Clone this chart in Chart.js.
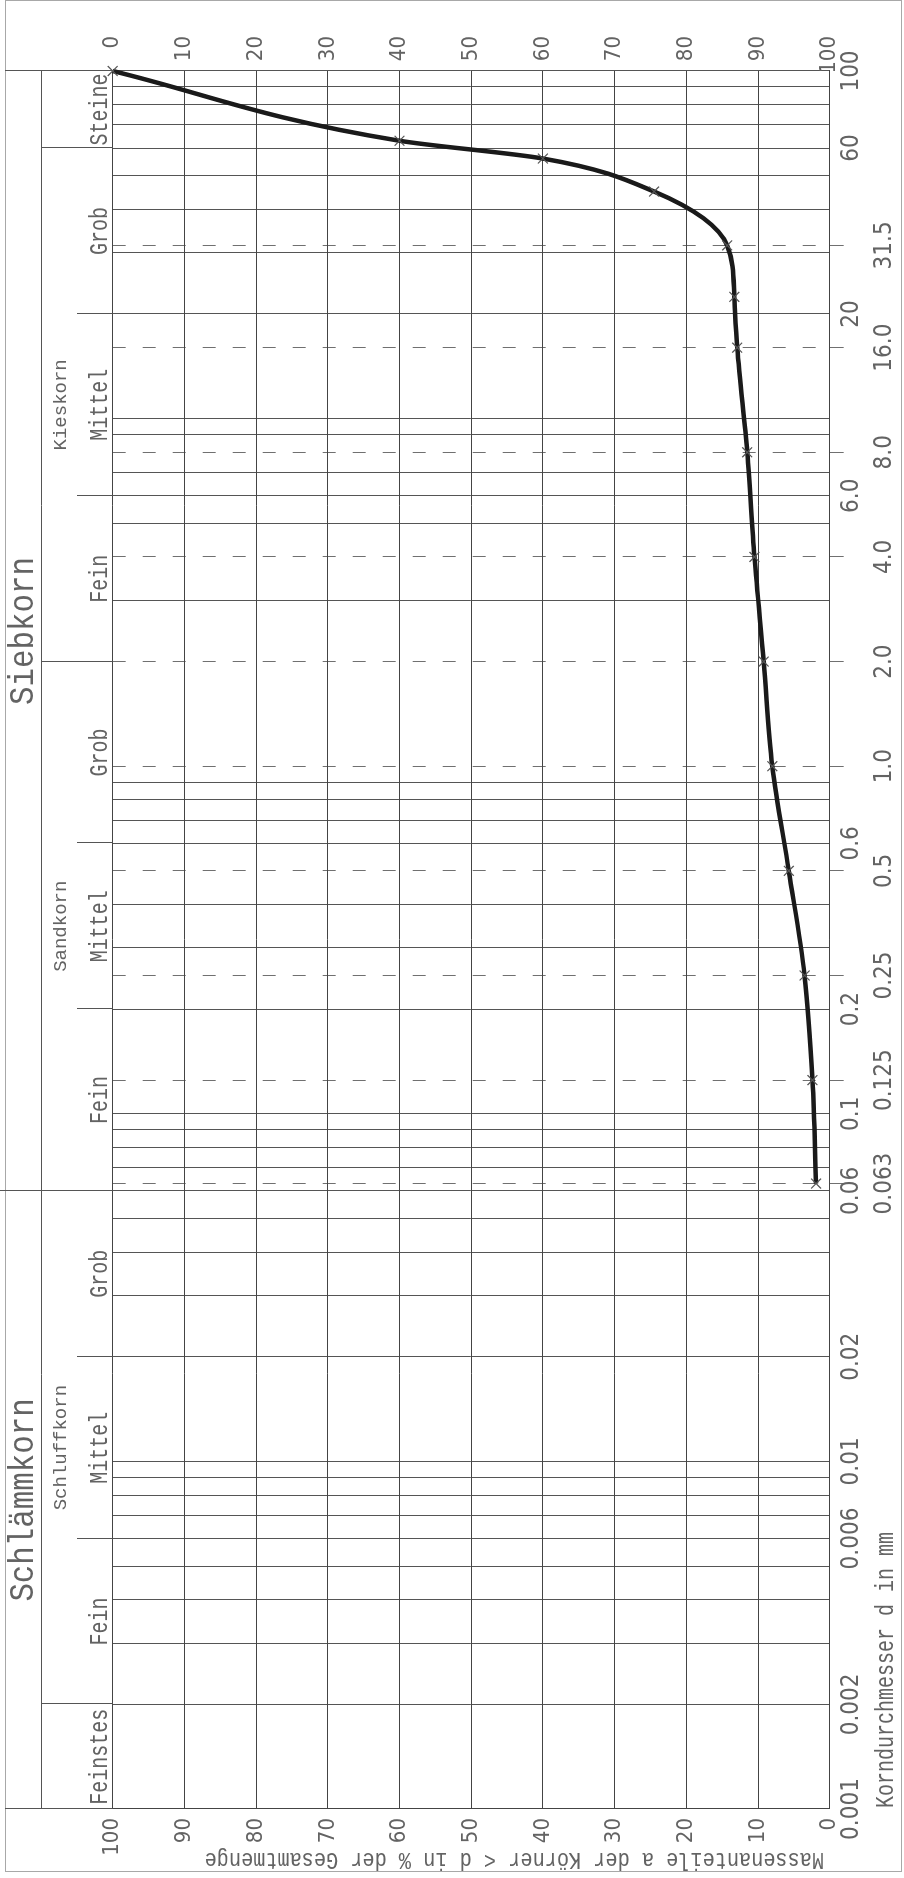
<!DOCTYPE html>
<html lang="de">
<head>
<meta charset="utf-8">
<title>Körnungslinie</title>
<script src="https://cdn.jsdelivr.net/npm/chart.js@4/dist/chart.umd.min.js"></script>
<style>
  html, body { margin: 0; padding: 0; background: #fff; overflow: hidden; }
  body { width: 904px; height: 1878px; position: relative; }
  /* the sheet is laid out landscape and turned to portrait */
  #sheet { position: absolute; left: 0; top: 0; width: 1878px; height: 904px;
           transform-origin: 0 0; transform: translateY(1878px) rotate(-90deg); }
  canvas { display: block; }
</style>
</head>
<body>
<div id="sheet"><canvas id="chart" width="1878" height="904"></canvas></div>
<script>
// Sieve analysis: grain diameter d (mm) and mass passing (%)
const diameters = [0.063, 0.125, 0.25, 0.5, 1, 2, 4, 8, 16, 22.4, 31.5, 45, 56, 63, 100];
const passing   = [1.9, 2.4, 3.5, 5.7, 8.0, 9.2, 10.5, 11.5, 12.9, 13.3, 14.3, 24.5, 40, 60, 100];

// First label row: class boundaries
const mainTicks  = [0.001, 0.002, 0.006, 0.01, 0.02, 0.06, 0.1, 0.2, 0.6, 6, 20, 60, 100];
const mainLabels = ['0.001', '0.002', '0.006', '0.01', '0.02', '0.06', '0.1', '0.2', '0.6', '6.0', '20', '60', '100'];
// Second label row: sieve sizes (dashed lines)
const sieveTicks  = [0.063, 0.125, 0.25, 0.5, 1, 2, 4, 8, 16, 31.5];
const sieveLabels = ['0.063', '0.125', '0.25', '0.5', '1.0', '2.0', '4.0', '8.0', '16.0', '31.5'];

const percentTicks = [0, 10, 20, 30, 40, 50, 60, 70, 80, 90, 100];

// Soil classification bands
const classNames  = ['Schlämmkorn', 'Siebkorn'];
const classBounds = [0.001, 0.06, 100];
const groupNames  = ['Schluffkorn', 'Sandkorn', 'Kieskorn'];
const groupBounds = [0.002, 0.06, 2, 60];
const fractionNames  = ['Feinstes', 'Fein', 'Mittel', 'Grob', 'Fein', 'Mittel', 'Grob', 'Fein', 'Mittel', 'Grob', 'Steine'];
const fractionBounds = [0.001, 0.002, 0.006, 0.02, 0.06, 0.2, 0.6, 2, 6, 20, 60, 100];

const xTitle = 'Korndurchmesser d in mm';
const yTitle = 'Massenanteile a der Körner < d in % der Gesamtmenge';

// ---- layout of the landscape sheet (px) ----
const PLOT_TOP = 112.7, PLOT_BOTTOM = 829.7, PLOT_LEFT = 69, PLOT_RIGHT = 1807;
const RIGHT_LABEL_END = 1842;
const W = 1878, H = 904;

const LINE = '#555';
const PCT_LINE = '#444';
const SIEVE_LINE = '#707070';
const TEXT = '#636363';
const NUM_FONT = "'Liberation Sans Narrow', 'DejaVu Sans Condensed', 'Arial Narrow', sans-serif";
const TXT_FONT = "'Liberation Mono', 'DejaVu Sans Mono', monospace";

const near = (a, b) => Math.abs(a - b) <= 1e-9 + 1e-6 * Math.abs(b);
const findIdx = (arr, v) => arr.findIndex(t => near(v, t));
const isSieve = c => !!(c.tick && findIdx(sieveTicks, c.tick.value) >= 0);

// logarithmic grid: 1..9 x 10^k, sieve lines replace coinciding ones
const gridValues = [];
for (let k = -3; k <= 1; k++) {
  for (let n = 1; n <= 9; n++) {
    const v = +(n * Math.pow(10, k)).toPrecision(6);
    if (findIdx(sieveTicks, v) < 0) gridValues.push(v);
  }
}
gridValues.push(100);
const xTickValues = gridValues.concat(sieveTicks).sort((a, b) => a - b);

function drawText(ctx, str, x, y, size, sx, align, rot) {
  ctx.save();
  ctx.translate(x, y);
  if (rot) ctx.rotate(rot);
  ctx.scale(sx, 1);
  ctx.font = size + 'px ' + TXT_FONT;
  ctx.textAlign = align;
  ctx.textBaseline = 'alphabetic';
  ctx.fillStyle = TEXT;
  ctx.fillText(str, 0, 0);
  ctx.restore();
}

function vline(ctx, x, y0, y1) {
  ctx.beginPath();
  ctx.moveTo(Math.round(x) + 0.5, y0);
  ctx.lineTo(Math.round(x) + 0.5, y1);
  ctx.stroke();
}

const sheetPlugin = {
  id: 'sheet',
  beforeDraw(chart) {
    const ctx = chart.ctx;
    ctx.save();
    ctx.fillStyle = '#fff';
    ctx.fillRect(0, 0, W, H);
    ctx.restore();
  },
  afterDraw(chart) {
    const ctx = chart.ctx;
    const xs = chart.scales.x;
    const px = v => xs.getPixelForValue(v);
    const gm = (a, b) => Math.sqrt(a * b);
    ctx.save();

    // sheet frame
    ctx.strokeStyle = '#a8a8a8';
    ctx.lineWidth = 1;
    ctx.strokeRect(6.5, 5.5, W - 7, 896);

    // header rules
    ctx.strokeStyle = LINE;
    ctx.beginPath();
    ctx.moveTo(PLOT_LEFT, 41.5);
    ctx.lineTo(PLOT_RIGHT, 41.5);
    ctx.stroke();
    vline(ctx, px(classBounds[0]), 5, PLOT_TOP);
    vline(ctx, px(classBounds[2]), 5, PLOT_TOP);
    vline(ctx, px(classBounds[1]), 0, PLOT_TOP);
    groupBounds.forEach(b => { if (findIdx(classBounds, b) < 0) vline(ctx, px(b), 41, PLOT_TOP); });
    fractionBounds.forEach(b => {
      if (findIdx(classBounds, b) < 0 && findIdx(groupBounds, b) < 0) vline(ctx, px(b), 77, PLOT_TOP);
    });

    // header captions
    classNames.forEach((t, i) => drawText(ctx, t, px(gm(classBounds[i], classBounds[i + 1])), 33, 35, 0.88, 'center'));
    groupNames.forEach((t, i) => drawText(ctx, t, px(gm(groupBounds[i], groupBounds[i + 1])), 66, 19, 1.0, 'center'));
    fractionNames.forEach((t, i) => drawText(ctx, t, px(gm(fractionBounds[i], fractionBounds[i + 1])), 107, 25, 0.8, 'center'));

    // axis titles
    drawText(ctx, xTitle, PLOT_LEFT + 1, 893, 25, 0.8, 'left');
    drawText(ctx, yTitle, 25, 824, 23, 0.88, 'left', -Math.PI / 2);
    ctx.restore();
  }
};

const points = diameters.map((d, i) => ({ x: d, y: passing[i] }));

new Chart(document.getElementById('chart'), {
  type: 'scatter',
  data: {
    datasets: [{
      data: points,
      showLine: true,
      borderColor: '#1a1a1a',
      borderWidth: 4.5,
      cubicInterpolationMode: 'monotone',
      pointStyle: 'crossRot',
      pointRadius: 7,
      pointHoverRadius: 7,
      pointBorderColor: '#555',
      pointBorderWidth: 1.2,
      pointBackgroundColor: 'rgba(0,0,0,0)',
      clip: false
    }]
  },
  options: {
    responsive: false,
    devicePixelRatio: 1,
    animation: false,
    events: [],
    layout: { padding: { top: PLOT_TOP, left: 0, right: W - RIGHT_LABEL_END, bottom: 0 } },
    plugins: { legend: { display: false }, tooltip: { enabled: false }, title: { display: false } },
    scales: {
      x: {
        type: 'logarithmic',
        position: 'bottom',
        min: 0.001,
        max: 100,
        afterBuildTicks: s => { s.ticks = xTickValues.map(v => ({ value: v })); },
        afterFit: s => { s.height = H - PLOT_BOTTOM; },
        grid: {
          color: c => isSieve(c) ? SIEVE_LINE : LINE,
          lineWidth: 1,
          drawTicks: true,
          tickLength: 14,
          tickWidth: 1,
          tickColor: c => isSieve(c) ? SIEVE_LINE : 'rgba(0,0,0,0)'
        },
        border: {
          display: true,
          color: PCT_LINE,
          dash: c => isSieve(c) ? [13, 17] : [],
          dashOffset: 0
        },
        ticks: {
          autoSkip: false,
          maxRotation: 0,
          minRotation: 0,
          padding: -8,
          color: TEXT,
          font: { family: NUM_FONT, size: 24, lineHeight: 1.375 },
          callback: v => {
            const m = findIdx(mainTicks, v);
            if (m >= 0) return mainLabels[m];
            const s = findIdx(sieveTicks, v);
            if (s >= 0) return ['', sieveLabels[s]];
            return '';
          }
        }
      },
      y: {
        type: 'linear',
        position: 'left',
        min: 0,
        max: 100,
        afterBuildTicks: s => { s.ticks = percentTicks.map(v => ({ value: v })); },
        afterFit: s => { s.width = PLOT_LEFT; },
        grid: { color: PCT_LINE, lineWidth: 1, drawTicks: false },
        border: { display: true, color: PCT_LINE },
        ticks: { padding: 9, color: TEXT, font: { family: NUM_FONT, size: 22 } }
      },
      y2: {
        type: 'linear',
        position: 'right',
        min: 0,
        max: 100,
        reverse: true,
        afterBuildTicks: s => { s.ticks = percentTicks.map(v => ({ value: v })); },
        afterFit: s => { s.width = RIGHT_LABEL_END - PLOT_RIGHT; },
        grid: { display: false, drawTicks: false },
        border: { display: false },
        ticks: { padding: 5, crossAlign: 'far', color: TEXT, font: { family: NUM_FONT, size: 22 } }
      }
    }
  },
  plugins: [sheetPlugin]
});
</script>
</body>
</html>
